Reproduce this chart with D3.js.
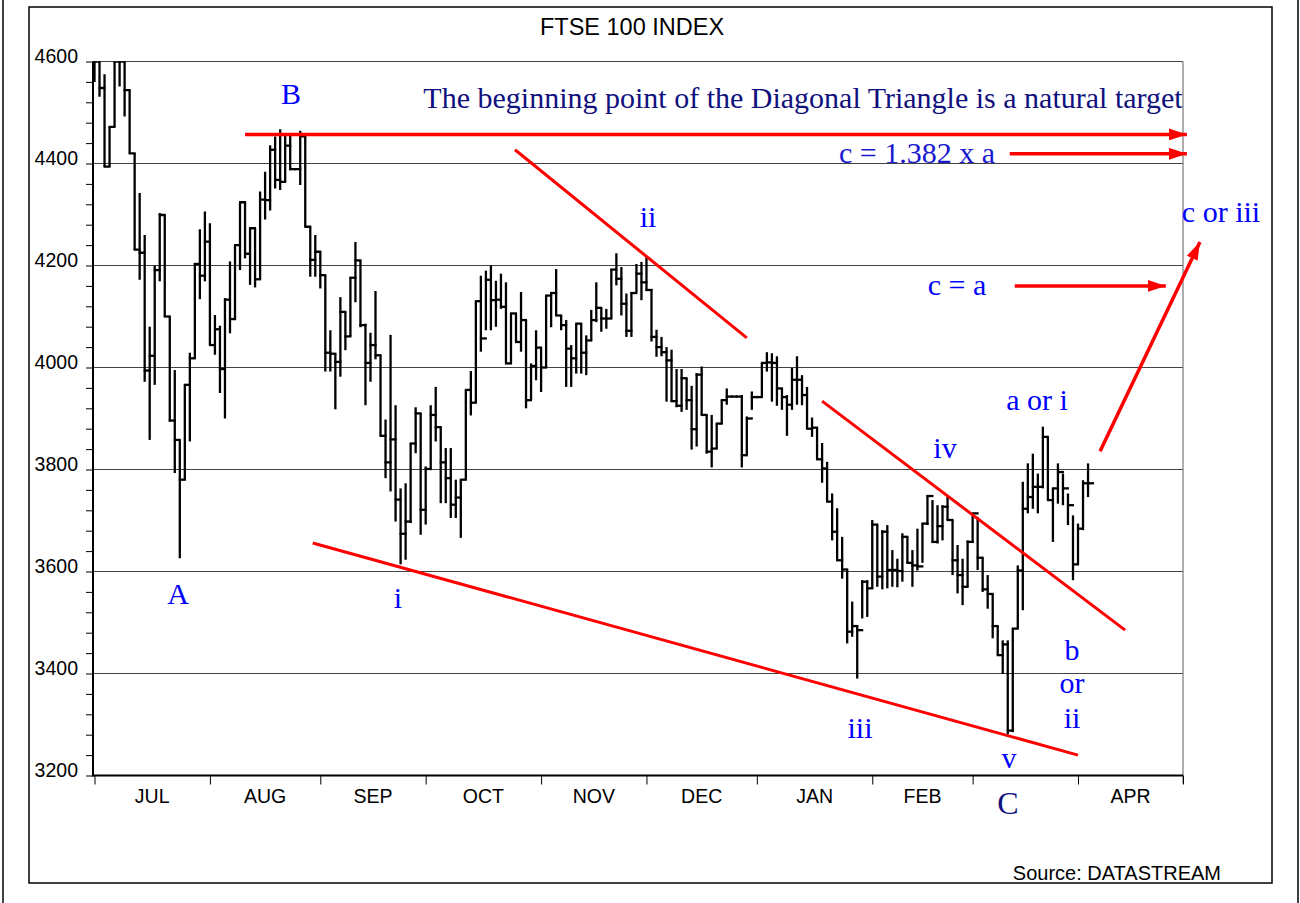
<!DOCTYPE html>
<html>
<head>
<meta charset="utf-8">
<title>FTSE 100 INDEX</title>
<script src="https://d3js.org/d3.v7.min.js"></script>
<style>
  body { margin: 0; background: #fff; }
  svg { display: block; }
  .axisText { font-family: "Liberation Sans", Arial, sans-serif; font-size: 19.5px; fill: #000; }
  .note { font-family: "Liberation Serif", "Times New Roman", serif; font-size: 30px; }
</style>
</head>
<body>
<svg width="1300" height="903"></svg>
<script>
// DATA - daily bars, 1 Jul 2002 .. 3 Apr 2003 (weekdays, holidays flat)
var high = [
  // Jul
  4620, 4620, 4575, 4472, 4620, 4620, 4610, 4544, 4420, 4342, 4260, 4080, 4200, 4303, 4299, 4100, 3995, 3858, 3966, 4029, 4205, 4271, 4306,
  // Aug
  4283, 4103, 4082, 4136, 4208, 4240, 4324, 4324, 4273, 4273, 4345, 4384, 4436, 4453, 4467, 4456, 4456, 4389, 4464, 4453, 4276, 4260,
  // Sep
  4227, 4181, 4073, 4027, 4138, 4109, 4177, 4246, 4210, 4086, 4068, 4150, 4024, 3898, 4064, 3926, 3763, 3773, 3851, 3922, 3910,
  // Oct
  3806, 3926, 3962, 3883, 3842, 3842, 3780, 3780, 3956, 3993, 4130, 4180, 4190, 4200, 4170, 4184, 4167, 4106, 4106, 4148, 4093, 4008, 4073,
  // Nov
  4039, 4141, 4148, 4193, 4102, 4093, 4044, 4086, 4086, 4063, 4113, 4167, 4117, 4115, 4193, 4224, 4197, 4145, 4148, 4203, 4207,
  // Dec
  4216, 4154, 4074, 4060, 4040, 4035, 3997, 3997, 3979, 3964, 3989, 4002, 3907, 3907, 3890, 3936, 3959, 3943, 3943, 3946, 3904, 3953,
  // Jan
  3942, 4009, 4030, 4028, 4022, 3959, 3946, 3999, 4022, 3985, 3962, 3902, 3882, 3852, 3815, 3753, 3724, 3668, 3604, 3541, 3495, 3583, 3583,
  // Feb
  3701, 3692, 3681, 3691, 3642, 3625, 3675, 3668, 3642, 3684, 3694, 3750, 3740, 3730, 3730, 3750, 3701, 3652, 3625, 3661,
  // Mar
  3714, 3707, 3627, 3593, 3556, 3493, 3465, 3465, 3488, 3612, 3776, 3812, 3831, 3792, 3884, 3864, 3763, 3812, 3792, 3753, 3710,
  // Apr
  3694, 3779, 3812
];
var low = [
  4560, 4531, 4394, 4394, 4472, 4551, 4492, 4420, 4231, 4172, 3972, 3858, 3966, 4169, 4100, 3894, 3793, 3626, 3780, 3855, 4018, 4134, 4169,
  4044, 4025, 3950, 3900, 4067, 4093, 4191, 4214, 4162, 4157, 4173, 4290, 4308, 4351, 4348, 4364, 4387, 4389, 4358, 4276, 4178, 4178,
  4155, 3992, 3992, 3918, 3982, 4034, 4061, 4128, 4079, 3926, 3972, 4016, 3866, 3783, 3757, 3698, 3614, 3623, 3695, 3832, 3672,
  3692, 3801, 3855, 3734, 3734, 3705, 3705, 3666, 3780, 3906, 3931, 4031, 4073, 4073, 4080, 4115, 4008, 4008, 4050, 4031, 3920, 3936, 3975,
  3952, 4000, 4079, 4102, 4073, 3962, 3962, 3988, 3988, 3985, 4053, 4089, 4070, 4076, 4096, 4161, 4102, 4060, 4060, 4148, 4132,
  4151, 4051, 4021, 4022, 3933, 3933, 3922, 3913, 3917, 3839, 3845, 3907, 3831, 3804, 3841, 3889, 3927, 3943, 3943, 3804, 3828, 3917,
  3942, 3942, 3992, 3933, 3925, 3917, 3866, 3917, 3927, 3926, 3880, 3864, 3820, 3774, 3737, 3661, 3622, 3586, 3459, 3472, 3390, 3508, 3511,
  3567, 3570, 3565, 3567, 3570, 3569, 3580, 3616, 3570, 3602, 3617, 3691, 3656, 3655, 3661, 3701, 3593, 3557, 3534, 3570,
  3656, 3603, 3560, 3527, 3469, 3436, 3399, 3281, 3285, 3488, 3524, 3714, 3723, 3714, 3763, 3740, 3658, 3733, 3730, 3691, 3583,
  3614, 3681, 3746
];
var close = [
  4600, 4548, 4394, 4472, 4600, 4600, 4544, 4420, 4231, 4225, 3994, 4023, 4191, 4299, 4100, 3896, 3858, 3780, 3966, 4018, 4203, 4180, 4247,
  4044, 4075, 3997, 4133, 4095, 4240, 4324, 4223, 4273, 4173, 4329, 4328, 4427, 4368, 4364, 4435, 4389, 4389, 4453, 4276, 4211, 4227,
  4181, 4029, 4027, 4011, 4109, 4061, 4176, 4210, 4083, 4009, 4044, 4024, 3866, 3814, 3859, 3741, 3674, 3698, 3851, 3910, 3721,
  3801, 3907, 3883, 3814, 3783, 3731, 3745, 3780, 3956, 3931, 4130, 4057, 4172, 4132, 4133, 4119, 4008, 4106, 4050, 4093, 3936, 4003, 4039,
  4000, 4141, 4146, 4102, 4083, 4037, 4018, 4086, 4029, 4053, 4093, 4117, 4096, 4096, 4192, 4174, 4125, 4072, 4146, 4184, 4167,
  4152, 4060, 4040, 4030, 4014, 3934, 3925, 3979, 3936, 3879, 3986, 3907, 3835, 3841, 3890, 3936, 3943, 3943, 3943, 3828, 3900, 3942,
  3942, 4009, 4010, 4009, 3959, 3942, 3927, 3976, 3976, 3946, 3880, 3882, 3820, 3802, 3737, 3678, 3622, 3604, 3482, 3493, 3485, 3580, 3567,
  3692, 3590, 3678, 3603, 3603, 3601, 3668, 3617, 3612, 3610, 3694, 3748, 3658, 3689, 3727, 3701, 3622, 3593, 3570, 3658,
  3714, 3627, 3565, 3556, 3493, 3436, 3457, 3288, 3488, 3602, 3723, 3746, 3766, 3766, 3864, 3740, 3763, 3795, 3763, 3730, 3614,
  3684, 3773, 3773
];

// month ticks = index of first weekday of each month
var monthStart = [0, 23, 45, 66, 89, 110, 132, 155, 175, 196];
var monthNames = ['JUL', 'AUG', 'SEP', 'OCT', 'NOV', 'DEC', 'JAN', 'FEB', '', 'APR'];
var yLabels = [3200, 3400, 3600, 3800, 4000, 4200, 4400, 4600];

// red annotation lines, [dayIndex, level]
var trendLines = [
  [[83.8, 4427], [130.0, 4058]],
  [[145.0, 3934], [205.4, 3485]],
  [[43.5, 3656], [196.0, 3240]]
];
var targetArrows = [
  [[30.0, 4457], [217.7, 4457]],
  [[182.4, 4419], [217.7, 4419]],
  [[183.4, 4160], [213.5, 4160]],
  [[200.4, 3836], [220.3, 4246]]
];

var blue = '#0000ff', navy = '#10107e';
var notes = [
  {t: 'The beginning point of the Diagonal Triangle is a natural target', x: 803, y: 108, c: navy},
  {t: 'B', x: 291, y: 104, c: blue},
  {t: 'A', x: 178, y: 604, c: blue},
  {t: 'i', x: 398, y: 608, c: blue},
  {t: 'ii', x: 648, y: 227, c: blue},
  {t: 'iii', x: 860, y: 738, c: blue},
  {t: 'iv', x: 945, y: 458, c: blue},
  {t: 'v', x: 1009, y: 768, c: blue},
  {t: 'C', x: 1008, y: 814, c: navy, s: 32},
  {t: 'a or i', x: 1037, y: 410, c: blue},
  {t: 'b', x: 1072, y: 660, c: blue},
  {t: 'or', x: 1072, y: 693, c: blue},
  {t: 'ii', x: 1072, y: 728, c: blue},
  {t: 'c = a', x: 957, y: 295, c: blue},
  {t: 'c = 1.382 x a', x: 917, y: 163, c: '#1818d0'},
  {t: 'c or iii', x: 1221, y: 222, c: blue}
];

var svg = d3.select('svg');
var plotLeft = 93, plotRight = 1183;

var x = d3.scaleLinear().domain([0, 196]).range([94.5, 1078]);
var y = d3.scaleLinear().domain([3200, 4600]).range([775.5, 61.5]);

// frames
svg.append('rect').attr('x', 29).attr('y', 7).attr('width', 1243).attr('height', 876)
  .attr('fill', 'none').attr('stroke', '#000').attr('stroke-width', 1.5);
[3, 1298].forEach(function(px) {
  svg.append('line').attr('x1', px).attr('x2', px).attr('y1', 0).attr('y2', 903)
    .attr('stroke', '#000').attr('stroke-width', 1.5);
});

// grid
svg.append('g').selectAll('line')
  .data(yLabels.slice(1))
  .enter().append('line')
  .attr('x1', plotLeft).attr('x2', plotRight)
  .attr('y1', d => y(d)).attr('y2', d => y(d))
  .attr('stroke', '#444').attr('stroke-width', 1);
svg.append('line').attr('x1', plotRight).attr('x2', plotRight)
  .attr('y1', y(4600)).attr('y2', y(3200) + 8)
  .attr('stroke', '#777').attr('stroke-width', 1.2);

// y axis
var yAxis = d3.axisLeft(y)
  .tickValues(d3.range(3200, 4601, 40))
  .tickSize(7)
  .tickFormat('');
var gy = svg.append('g').attr('transform', 'translate(' + plotLeft + ',0)').call(yAxis);
gy.select('.domain').remove();
gy.selectAll('line').attr('stroke', '#000').attr('stroke-width', 1);
svg.append('line').attr('x1', plotLeft).attr('x2', plotLeft)
  .attr('y1', y(4600)).attr('y2', y(3200) + 1)
  .attr('stroke', '#000').attr('stroke-width', 2);

svg.append('g').selectAll('text')
  .data(yLabels)
  .enter().append('text')
  .attr('class', 'axisText')
  .attr('x', 78)
  .attr('y', d => y(d) + 1)
  .attr('text-anchor', 'end')
  .text(d => d);

// x axis
var endIdx = x.invert(plotRight);
var xTicks = monthStart.concat([endIdx]);
var gx = svg.append('g').attr('transform', 'translate(0,' + y(3200) + ')')
  .call(d3.axisBottom(x).tickValues(xTicks).tickSize(9).tickFormat(''));
gx.select('.domain').remove();
gx.selectAll('line').attr('stroke', '#000').attr('stroke-width', 1);
svg.append('line').attr('x1', plotLeft).attr('x2', plotRight)
  .attr('y1', y(3200)).attr('y2', y(3200))
  .attr('stroke', '#000').attr('stroke-width', 2);

svg.append('g').selectAll('text')
  .data(monthNames)
  .enter().append('text')
  .attr('class', 'axisText')
  .attr('x', (d, i) => (x(xTicks[i]) + x(xTicks[i + 1])) / 2)
  .attr('y', 803)
  .attr('text-anchor', 'middle')
  .text(d => d);

// title and source
svg.append('text').attr('class', 'axisText').attr('x', 632).attr('y', 35)
  .attr('text-anchor', 'middle').style('font-size', '23.5px').text('FTSE 100 INDEX');
svg.append('text').attr('class', 'axisText').attr('x', 1221).attr('y', 880)
  .attr('text-anchor', 'end').style('font-size', '20px').text('Source: DATASTREAM');

// bars
svg.append('clipPath').attr('id', 'plotClip')
  .append('rect').attr('x', plotLeft).attr('y', y(4600))
  .attr('width', plotRight - plotLeft).attr('height', y(3200) - y(4600));

var bars = svg.append('g').attr('clip-path', 'url(#plotClip)');
var idx = d3.range(high.length);

bars.selectAll('line.hl')
  .data(idx)
  .enter().append('line')
  .attr('class', 'hl')
  .attr('x1', d => x(d)).attr('x2', d => x(d))
  .attr('y1', d => y(high[d])).attr('y2', d => y(low[d]))
  .attr('stroke', '#000').attr('stroke-width', 2.3);

bars.selectAll('line.cl')
  .data(idx)
  .enter().append('line')
  .attr('class', 'cl')
  .attr('x1', d => x(d) - 1).attr('x2', d => x(d + 1) + 1)
  .attr('y1', d => y(close[d])).attr('y2', d => y(close[d]))
  .attr('stroke', '#000').attr('stroke-width', 2.3);

// red lines
var defs = svg.append('defs');
defs.append('marker').attr('id', 'head')
  .attr('markerUnits', 'userSpaceOnUse')
  .attr('markerWidth', 19).attr('markerHeight', 12)
  .attr('refX', 18).attr('refY', 6)
  .attr('orient', 'auto')
  .append('path').attr('d', 'M0,0 L18,6 L0,12 Z').attr('fill', '#ff0000');

var lineGen = d3.line().x(d => x(d[0])).y(d => y(d[1]));

svg.append('g').selectAll('path')
  .data(trendLines)
  .enter().append('path')
  .attr('d', lineGen)
  .attr('fill', 'none').attr('stroke', '#ff0000').attr('stroke-width', 3);

svg.append('g').selectAll('path')
  .data(targetArrows)
  .enter().append('path')
  .attr('d', lineGen)
  .attr('fill', 'none').attr('stroke', '#ff0000').attr('stroke-width', 3.5)
  .attr('marker-end', 'url(#head)');

// wave labels
svg.append('g').selectAll('text')
  .data(notes)
  .enter().append('text')
  .attr('class', 'note')
  .attr('x', d => d.x).attr('y', d => d.y)
  .attr('text-anchor', 'middle')
  .attr('fill', d => d.c)
  .style('font-size', d => (d.s || 30) + 'px')
  .text(d => d.t);
</script>
</body>
</html>
